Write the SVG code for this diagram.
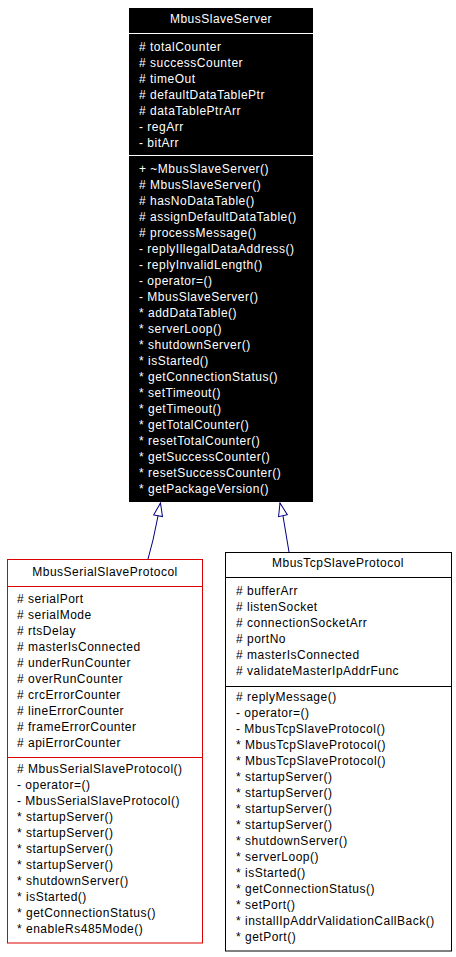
<svg xmlns="http://www.w3.org/2000/svg" width="456" height="957" viewBox="0 0 456 957">
<style>
text{font-family:"Liberation Sans",Arial,sans-serif;font-size:12px;letter-spacing:0.5px}
.w{fill:#ffffff}
.k{fill:#000000}
.t{text-anchor:middle}
.edge{fill:none;stroke:#000080;stroke-width:1}
</style>
<defs>
<marker id="inh" markerUnits="userSpaceOnUse" markerWidth="16" markerHeight="12" refX="13" refY="4.5" orient="auto" overflow="visible">
<path d="M0,0 L13,4.5 L0,9 Z" fill="#ffffff" stroke="#000080" stroke-width="1"/>
</marker>
</defs>
<rect width="456" height="957" fill="#ffffff"/>
<g id="connectors">
<path class="edge" d="M148,559 L153,540 L158,516 L160.5,503" marker-end="url(#inh)"/>
<path class="edge" d="M289,552 L283,516 L280,503" marker-end="url(#inh)"/>
</g>
<g id="MbusSlaveServer">
<rect x="129" y="8" width="184" height="494" fill="#000000"/>
<line x1="129" y1="33.5" x2="313" y2="33.5" stroke="#ffffff"/>
<line x1="129" y1="155.5" x2="313" y2="155.5" stroke="#ffffff"/>
<text class="w t" x="221" y="23">MbusSlaveServer</text>
<g class="w">
<text x="139" y="51"># totalCounter</text>
<text x="139" y="67"># successCounter</text>
<text x="139" y="83"># timeOut</text>
<text x="139" y="99"># defaultDataTablePtr</text>
<text x="139" y="115"># dataTablePtrArr</text>
<text x="139" y="131">- regArr</text>
<text x="139" y="147">- bitArr</text>
<text x="139" y="173">+ ~MbusSlaveServer()</text>
<text x="139" y="189"># MbusSlaveServer()</text>
<text x="139" y="205"># hasNoDataTable()</text>
<text x="139" y="221"># assignDefaultDataTable()</text>
<text x="139" y="237"># processMessage()</text>
<text x="139" y="253">- replyIllegalDataAddress()</text>
<text x="139" y="269">- replyInvalidLength()</text>
<text x="139" y="285">- operator=()</text>
<text x="139" y="301">- MbusSlaveServer()</text>
<text x="139" y="317">* addDataTable()</text>
<text x="139" y="333">* serverLoop()</text>
<text x="139" y="349">* shutdownServer()</text>
<text x="139" y="365">* isStarted()</text>
<text x="139" y="381">* getConnectionStatus()</text>
<text x="139" y="397">* setTimeout()</text>
<text x="139" y="413">* getTimeout()</text>
<text x="139" y="429">* getTotalCounter()</text>
<text x="139" y="445">* resetTotalCounter()</text>
<text x="139" y="461">* getSuccessCounter()</text>
<text x="139" y="477">* resetSuccessCounter()</text>
<text x="139" y="493">* getPackageVersion()</text>
</g>
</g>
<g id="MbusSerialSlaveProtocol">
<rect x="7.5" y="559.5" width="195" height="383.5" fill="#ffffff" stroke="#dd0000"/>
<line x1="7.5" y1="586.5" x2="202.5" y2="586.5" stroke="#dd0000"/>
<line x1="7.5" y1="757.5" x2="202.5" y2="757.5" stroke="#dd0000"/>
<text class="k t" x="105" y="576">MbusSerialSlaveProtocol</text>
<g class="k">
<text x="17" y="603"># serialPort</text>
<text x="17" y="619"># serialMode</text>
<text x="17" y="635"># rtsDelay</text>
<text x="17" y="651"># masterIsConnected</text>
<text x="17" y="667"># underRunCounter</text>
<text x="17" y="683"># overRunCounter</text>
<text x="17" y="699"># crcErrorCounter</text>
<text x="17" y="715"># lineErrorCounter</text>
<text x="17" y="731"># frameErrorCounter</text>
<text x="17" y="747"># apiErrorCounter</text>
<text x="17" y="773"># MbusSerialSlaveProtocol()</text>
<text x="17" y="789">- operator=()</text>
<text x="17" y="805">- MbusSerialSlaveProtocol()</text>
<text x="17" y="821">* startupServer()</text>
<text x="17" y="837">* startupServer()</text>
<text x="17" y="853">* startupServer()</text>
<text x="17" y="869">* startupServer()</text>
<text x="17" y="885">* shutdownServer()</text>
<text x="17" y="901">* isStarted()</text>
<text x="17" y="917">* getConnectionStatus()</text>
<text x="17" y="933">* enableRs485Mode()</text>
</g>
</g>
<g id="MbusTcpSlaveProtocol">
<rect x="225.5" y="552.5" width="226" height="398.5" fill="#ffffff" stroke="#000000"/>
<line x1="225.5" y1="577.5" x2="451.5" y2="577.5" stroke="#000000"/>
<line x1="225.5" y1="686.5" x2="451.5" y2="686.5" stroke="#000000"/>
<text class="k t" x="338" y="567">MbusTcpSlaveProtocol</text>
<g class="k">
<text x="236" y="595"># bufferArr</text>
<text x="236" y="611"># listenSocket</text>
<text x="236" y="627"># connectionSocketArr</text>
<text x="236" y="643"># portNo</text>
<text x="236" y="659"># masterIsConnected</text>
<text x="236" y="675"># validateMasterIpAddrFunc</text>
<text x="236" y="701"># replyMessage()</text>
<text x="236" y="717">- operator=()</text>
<text x="236" y="733">- MbusTcpSlaveProtocol()</text>
<text x="236" y="749">* MbusTcpSlaveProtocol()</text>
<text x="236" y="765">* MbusTcpSlaveProtocol()</text>
<text x="236" y="781">* startupServer()</text>
<text x="236" y="797">* startupServer()</text>
<text x="236" y="813">* startupServer()</text>
<text x="236" y="829">* startupServer()</text>
<text x="236" y="845">* shutdownServer()</text>
<text x="236" y="861">* serverLoop()</text>
<text x="236" y="877">* isStarted()</text>
<text x="236" y="893">* getConnectionStatus()</text>
<text x="236" y="909">* setPort()</text>
<text x="236" y="925">* installIpAddrValidationCallBack()</text>
<text x="236" y="941">* getPort()</text>
</g>
</g>
</svg>
